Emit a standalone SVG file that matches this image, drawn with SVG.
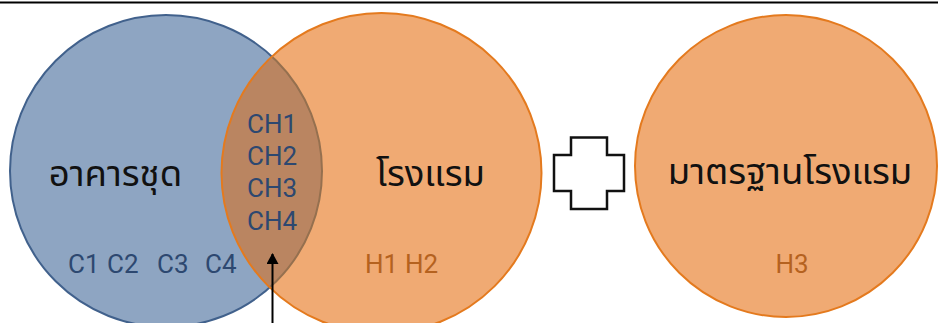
<svg xmlns="http://www.w3.org/2000/svg" width="938" height="323" viewBox="0 0 938 323">
  <style>
    .title { font-family: "Noto Sans Thai", "Noto Sans", "DejaVu Sans", sans-serif; font-size: 36.5px; fill: #111111; }
    .code-blue { font-family: Roboto, "Liberation Sans", sans-serif; font-size: 26px; fill: #2d4870; }
    .code-orange { font-family: Roboto, "Liberation Sans", sans-serif; font-size: 26px; fill: #b5621f; }
  </style>
  <defs>
    <clipPath id="clip-blue"><circle cx="166" cy="171" r="156"/></clipPath>
    <clipPath id="clip-orange"><circle cx="381.5" cy="173" r="160"/></clipPath>
    <marker id="arrowhead" markerWidth="12" markerHeight="12" refX="10" refY="6" orient="auto" markerUnits="userSpaceOnUse">
      <path d="M0,0 L11,6 L0,12 Z" fill="#000000"/>
    </marker>
  </defs>

  <!-- header rule -->
  <line x1="0" y1="2.5" x2="938" y2="2.5" stroke="#000000" stroke-width="2"/>

  <!-- set: condominium -->
  <g id="condo">
    <circle cx="166" cy="171" r="156" fill="#8ea5c2" stroke="#41618c" stroke-width="2"/>
    <text class="title" x="115.5" y="186" text-anchor="middle">อาคารชุด</text>
    <text class="code-blue" x="68" y="273">C1</text>
    <text class="code-blue" x="107" y="273">C2</text>
    <text class="code-blue" x="157" y="273">C3</text>
    <text class="code-blue" x="205" y="273">C4</text>
  </g>

  <!-- set: hotel -->
  <g id="hotel">
    <circle cx="381.5" cy="173" r="160" fill="#f0aa73"/>
    <text class="title" x="430.5" y="186" text-anchor="middle">โรงแรม</text>
    <text class="code-orange" x="365" y="273">H1</text>
    <text class="code-orange" x="405" y="273">H2</text>
  </g>

  <!-- intersection of both sets -->
  <g id="overlap">
    <circle cx="381.5" cy="173" r="160" fill="#ba8561" clip-path="url(#clip-blue)"/>
    <circle cx="166" cy="171" r="156" fill="none" stroke="#95704f" stroke-width="2" clip-path="url(#clip-orange)"/>
    <circle cx="381.5" cy="173" r="160" fill="none" stroke="#e47a1e" stroke-width="2"/>
    <text class="code-blue" x="247" y="133">CH1</text>
    <text class="code-blue" x="247" y="165">CH2</text>
    <text class="code-blue" x="247" y="197">CH3</text>
    <text class="code-blue" x="247" y="230">CH4</text>
  </g>

  <!-- plus sign -->
  <g id="plus">
    <polygon points="571,137.5 607,137.5 607,155 624,155 624,191 607,191 607,209 571,209 571,191 554,191 554,155 571,155" fill="#ffffff" stroke="#111111" stroke-width="2.5"/>
  </g>

  <!-- set: hotel standard -->
  <g id="hotel-standard">
    <circle cx="786" cy="166" r="151" fill="#f0aa73" stroke="#e47a1e" stroke-width="2"/>
    <text class="title" x="790" y="184" text-anchor="middle">มาตรฐานโรงแรม</text>
    <text class="code-orange" x="792" y="273" text-anchor="middle">H3</text>
  </g>

  <!-- connectors -->
  <g id="connectors">
    <line x1="272.5" y1="323" x2="272.5" y2="254" stroke="#000000" stroke-width="2" marker-end="url(#arrowhead)"/>
  </g>
</svg>
